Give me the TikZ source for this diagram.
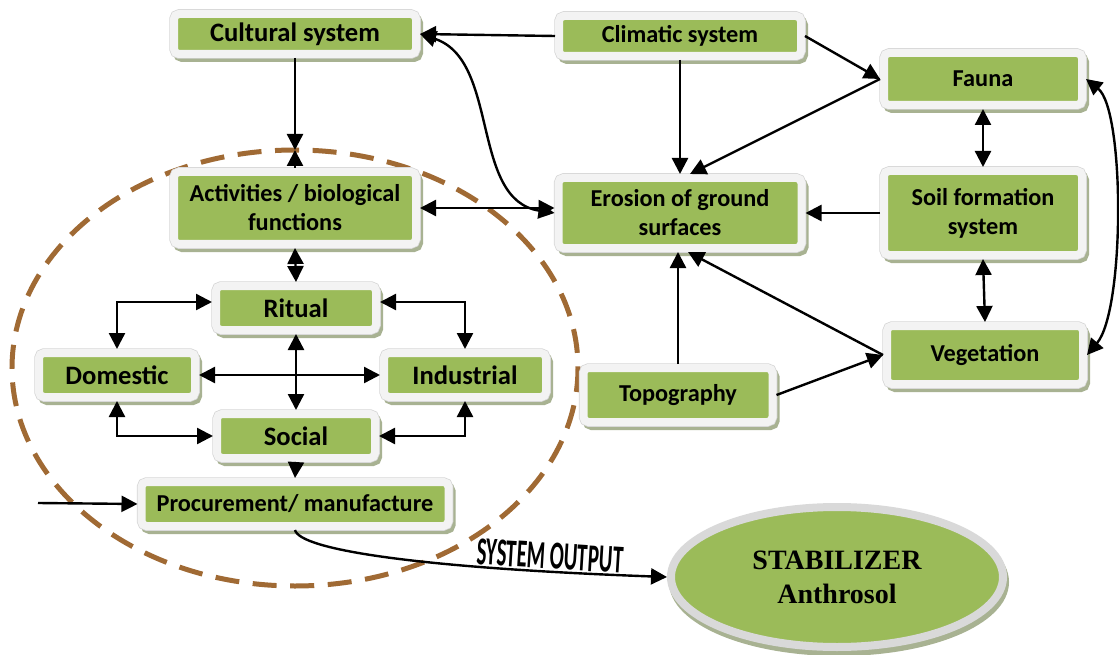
\documentclass[tikz,border=0pt]{standalone}
\usepackage{fontspec}
\setmainfont{Carlito}
\newfontfamily\stabfont{Liberation Serif}
\usetikzlibrary{arrows.meta,shapes.geometric}
\definecolor{boxgreen}{RGB}{155,187,89}
\definecolor{framec}{RGB}{243,243,243}
\definecolor{edgec}{RGB}{214,214,214}
\definecolor{shadowc}{RGB}{168,178,146}
\definecolor{ringc}{RGB}{217,217,217}
\definecolor{dashc}{RGB}{160,106,52}
\newcommand\boxfont{\bfseries\fontsize{24.3}{29}\selectfont}
\newcommand\largeboxfont{\bfseries\fontsize{26.6}{30}\selectfont}
\tikzset{
  box/.style={rectangle, rounded corners=5pt, fill=boxgreen, draw=framec,
    line width=8pt, outer sep=4pt, inner sep=0pt, align=center, font=\boxfont,
    preaction={draw=shadowc, fill=shadowc, transform canvas={xshift=3pt,yshift=-4pt}},
    preaction={draw=edgec, line width=9.5pt}},
  large/.style={font=\largeboxfont},
  oval/.style={ellipse, fill=boxgreen, draw=ringc, line width=8pt, outer sep=4pt,
    inner sep=0pt, align=center,
    font=\stabfont\bfseries\fontsize{28}{34}\selectfont,
    preaction={draw=shadowc, fill=shadowc, transform canvas={xshift=2pt,yshift=-5pt}}},
  tip/.tip={Triangle[length=16pt,width=16pt]},
  arr/.style={line width=2.4pt, -tip},
  biarr/.style={line width=2.4pt, tip-tip},
  ring/.style={draw=dashc, line width=5pt, dash pattern=on 24pt off 13.6pt},
}
\begin{document}
\begin{tikzpicture}[x=1pt,y=-1pt]
\useasboundingbox (0,0) rectangle (1119,655);

% dashed boundary of the human activity subsystem
\draw[ring] (295,368) ellipse [x radius=283, y radius=218];

% boxes
\node[box, large, minimum width=242pt, minimum height=40pt] (cultural) at (295,34) {Cultural system};
\node[box, minimum width=242pt, minimum height=40pt] (climatic) at (680,36) {Climatic system};
\node[box, minimum width=198pt, minimum height=52pt] (fauna) at (983,79) {Fauna};
\node[box, minimum width=242pt, minimum height=72pt] (activities) at (295,208) {Activities / biological\\functions};
\node[box, minimum width=243pt, minimum height=70pt] (erosion) at (680,213) {Erosion of ground\\surfaces};
\node[box, minimum width=198pt, minimum height=84pt] (soil) at (983,213) {Soil formation\\system};
\node[box, large, minimum width=160pt, minimum height=44pt] (ritual) at (296,308) {Ritual};
\node[box, large, minimum width=156pt, minimum height=44pt] (domestic) at (117,375) {Domestic};
\node[box, large, minimum width=162pt, minimum height=44pt] (industrial) at (465,375) {Industrial};
\node[box, large, minimum width=158pt, minimum height=44pt] (social) at (296,436) {Social};
\node[box, minimum width=307pt, minimum height=44pt] (procurement) at (295,504) {Procurement/ manufacture};
\node[box, minimum width=189pt, minimum height=54pt] (topography) at (678,395) {Topography};
\node[box, minimum width=196pt, minimum height=58pt] (vegetation) at (985,355) {Vegetation};
\node[oval, minimum width=332pt, minimum height=140pt] (stabilizer) at (837,577) {STABILIZER\\Anthrosol};

\coordinate (etop) at (295,150);
\coordinate (input) at (38,503);

% connectors of the activity subsystem
\draw[arr] (cultural.south) -- (etop);
\draw[arr] (activities.north) -- (etop);
\draw[biarr] (activities.south) -- (ritual.north);
\draw[biarr] ([yshift=6pt]ritual.west) -| (domestic.north);
\draw[biarr] ([yshift=6pt]ritual.east) -| (industrial.north);
\draw[biarr] (domestic.east) -- (industrial.west);
\draw[biarr] (ritual.south) -- (social.north);
\draw[biarr] (domestic.south) |- (social.west);
\draw[biarr] (industrial.south) |- (social.east);
\draw[arr] (social.south) -- (procurement.north);
\draw[arr] (input) -- (procurement.west);
\draw[arr] (procurement.south) .. controls (300,550) and (420,568) .. (stabilizer.west);
\node[rotate=-3.5, inner sep=0pt] (output) at (550,556)
  {\scalebox{0.82}[1.55]{\bfseries\fontsize{25.5}{28}\selectfont SYSTEM OUTPUT}};

% connectors of the environment
\draw[arr] (climatic.west) -- (cultural.east);
\draw[biarr] (cultural.east) .. controls (500,60) and (470,200) .. (erosion.west);
\draw[biarr] (activities.east) -- (activities.east -| erosion.west);
\draw[arr] (climatic.south) -- (erosion.north);
\draw[arr] (climatic.east) -- (fauna.west);
\draw[arr] (fauna.west) -- ([xshift=10pt]erosion.north);
\draw[biarr] (fauna.south) -- (soil.north);
\draw[arr] (soil.west) -- (erosion.east);
\draw[biarr] (soil.south) -- (vegetation.north);
\draw[biarr] (fauna.east) .. controls (1125,110) and (1125,310) .. (vegetation.east);
\draw[arr] (vegetation.west) -- ([xshift=8pt]erosion.south);
\draw[arr] (topography.north) -- (topography.north |- erosion.south);
\draw[arr] (topography.east) -- (vegetation.west);
\end{tikzpicture}
\end{document}
